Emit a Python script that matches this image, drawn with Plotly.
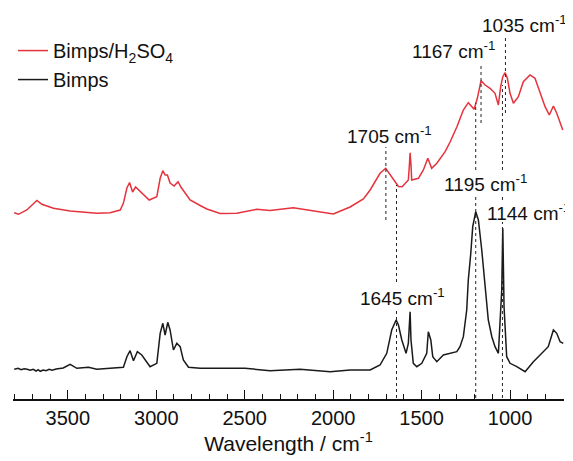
import plotly.graph_objects as go

# ---- Data ----
# Bimps/H2SO4 (red, offset spectrum): wavenumber (cm-1) and intensity (a.u.)
red_wn = [3803, 3779, 3732, 3703, 3675, 3647, 3581, 3487, 3336, 3261, 3204, 3186, 3166, 3151,
          3134, 3117, 3082, 3040, 2997, 2978, 2963, 2950, 2937, 2922, 2899, 2877, 2860, 2809,
          2752, 2714, 2639, 2545, 2432, 2357, 2225, 2112, 1999, 1904, 1829, 1791, 1763, 1735,
          1703, 1669, 1631, 1610, 1594, 1575, 1569, 1565, 1560, 1556, 1518, 1490, 1465, 1443,
          1414, 1367, 1339, 1301, 1264, 1236, 1203, 1185, 1164, 1141, 1113, 1085, 1066, 1053,
          1041, 1028, 1015, 1000, 981, 953, 925, 887, 859, 830, 802, 778, 755, 736, 702]
red_int = [1.863, 1.847, 1.890, 1.940, 1.985, 1.947, 1.907, 1.880, 1.857, 1.863, 1.890, 1.957,
           2.110, 2.165, 2.070, 2.120, 2.057, 1.990, 2.023, 2.207, 2.283, 2.240, 2.240, 2.160,
           2.130, 2.173, 2.117, 1.990, 1.935, 1.900, 1.855, 1.857, 1.897, 1.885, 1.913, 1.883,
           1.850, 1.920, 2.000, 2.090, 2.170, 2.257, 2.307, 2.223, 2.125, 2.123, 2.157, 2.190,
           2.340, 2.463, 2.340, 2.190, 2.207, 2.290, 2.407, 2.307, 2.357, 2.473, 2.570, 2.720,
           2.890, 2.963, 2.897, 3.007, 3.183, 3.140, 3.107, 3.057, 2.940, 3.123, 3.223, 3.263,
           3.207, 3.057, 2.957, 3.023, 3.173, 3.240, 3.207, 3.057, 2.923, 2.840, 2.930, 2.857,
           2.690]

# Bimps (black)
blk_wn = [3803, 3781, 3764, 3747, 3730, 3713, 3696, 3679, 3668, 3656, 3640, 3623, 3606, 3589,
          3566, 3543, 3526, 3487, 3449, 3383, 3336, 3261, 3186, 3166, 3148, 3129, 3107, 3082,
          3035, 2997, 2978, 2963, 2950, 2935, 2922, 2903, 2884, 2865, 2847, 2818, 2752, 2498,
          2357, 2187, 2017, 1904, 1791, 1735, 1697, 1669, 1644, 1631, 1612, 1588, 1575, 1565,
          1560, 1547, 1527, 1499, 1471, 1462, 1448, 1437, 1414, 1377, 1339, 1301, 1283, 1264,
          1245, 1236, 1222, 1211, 1194, 1179, 1160, 1141, 1123, 1103, 1085, 1066, 1057, 1047,
          1041, 1034, 1019, 1000, 962, 915, 868, 821, 784, 755, 736, 717, 699]
blk_int = [0.297, 0.307, 0.293, 0.303, 0.297, 0.287, 0.297, 0.280, 0.293, 0.277, 0.290, 0.283,
           0.297, 0.287, 0.300, 0.303, 0.310, 0.347, 0.307, 0.317, 0.297, 0.307, 0.317, 0.423,
           0.483, 0.383, 0.473, 0.440, 0.323, 0.357, 0.657, 0.757, 0.640, 0.767, 0.690, 0.490,
           0.557, 0.523, 0.390, 0.317, 0.307, 0.307, 0.283, 0.297, 0.273, 0.290, 0.290, 0.340,
           0.457, 0.690, 0.790, 0.740, 0.590, 0.457, 0.557, 0.873, 0.590, 0.357, 0.323, 0.357,
           0.457, 0.673, 0.590, 0.423, 0.373, 0.440, 0.457, 0.473, 0.523, 0.623, 0.890, 1.190,
           1.457, 1.723, 1.873, 1.790, 1.490, 1.123, 0.790, 0.623, 0.523, 0.457, 0.757, 1.090,
           1.707, 0.923, 0.423, 0.357, 0.323, 0.273, 0.373, 0.457, 0.523, 0.690, 0.657, 0.573,
           0.557]

# Peak marker lines: wavenumber and vertical extents (a.u.) of each dotted segment
line_wn = [1702, 1642, 1642, 1194, 1194, 1043, 1043, 1043, 1026, 1164]
line_y0 = [1.79, 1.17, 0.01, 2.29, 0.01, 2.29, 1.99, 0.01, 2.86, 2.76]
line_y1 = [2.52, 2.14, 0.89, 2.96, 2.04, 3.14, 2.02, 1.77, 3.63, 3.36]

# Peak labels
label_text = ["1705 cm<sup>-1</sup>", "1645 cm<sup>-1</sup>", "1195 cm<sup>-1</sup>",
              "1144 cm<sup>-1</sup>", "1167 cm<sup>-1</sup>", "1035 cm<sup>-1</sup>"]
label_wn = [1681, 1610, 1138, 893, 1319, 921]
label_y = [2.64, 1.02, 2.16, 1.87, 3.49, 3.75]

x_tick_vals = [3500, 3000, 2500, 2000, 1500, 1000]

FONT = "Arial, Liberation Sans, Helvetica, sans-serif"

fig = go.Figure()
fig.add_trace(go.Scatter(x=red_wn, y=red_int, mode="lines", name="Bimps/H<sub>2</sub>SO<sub>4</sub>",
                         line=dict(color="#E6323C", width=1.5)))
fig.add_trace(go.Scatter(x=blk_wn, y=blk_int, mode="lines", name="Bimps",
                         line=dict(color="#1a1a1a", width=1.5)))

for wn, a, b in zip(line_wn, line_y0, line_y1):
    fig.add_shape(type="line", xref="x", yref="y", x0=wn, x1=wn, y0=a, y1=b,
                  line=dict(color="#222222", width=1, dash="dot"))

for t, wn, yy in zip(label_text, label_wn, label_y):
    fig.add_annotation(x=wn, y=yy, xref="x", yref="y", text=t, showarrow=False,
                       font=dict(family=FONT, size=19, color="#111111"))

# The page adds an 8px body margin, so the figure is sized 8px smaller and its
# plot area placed to line up with the reference when shown in a 573x461 window.
fig.update_layout(
    width=565, height=453,
    margin=dict(l=5, r=9, t=0, b=62),
    paper_bgcolor="white", plot_bgcolor="white",
    font=dict(family=FONT, size=20, color="#111111"),
    showlegend=True,
    legend=dict(x=0.0, y=0.941, xanchor="left", yanchor="top",
                font=dict(family=FONT, size=20, color="#111111"),
                bgcolor="rgba(0,0,0,0)", tracegroupgap=0),
    xaxis=dict(range=[3810, 695], tickvals=x_tick_vals, showgrid=False, zeroline=False,
               showline=True, linecolor="#111111", linewidth=1.5,
               ticks="inside", ticklen=9, tickwidth=1.2, tickcolor="#111111",
               tickfont=dict(family=FONT, size=20, color="#111111"),
               minor=dict(dtick=100, ticks="inside", ticklen=5, tickwidth=1, tickcolor="#111111"),
               title=dict(text="Wavelength / cm<sup>-1</sup>", standoff=4,
                          font=dict(family=FONT, size=21, color="#111111"))),
    yaxis=dict(range=[0, 3.91], visible=False, showgrid=False, zeroline=False),
)

fig.write_html("out.html")
